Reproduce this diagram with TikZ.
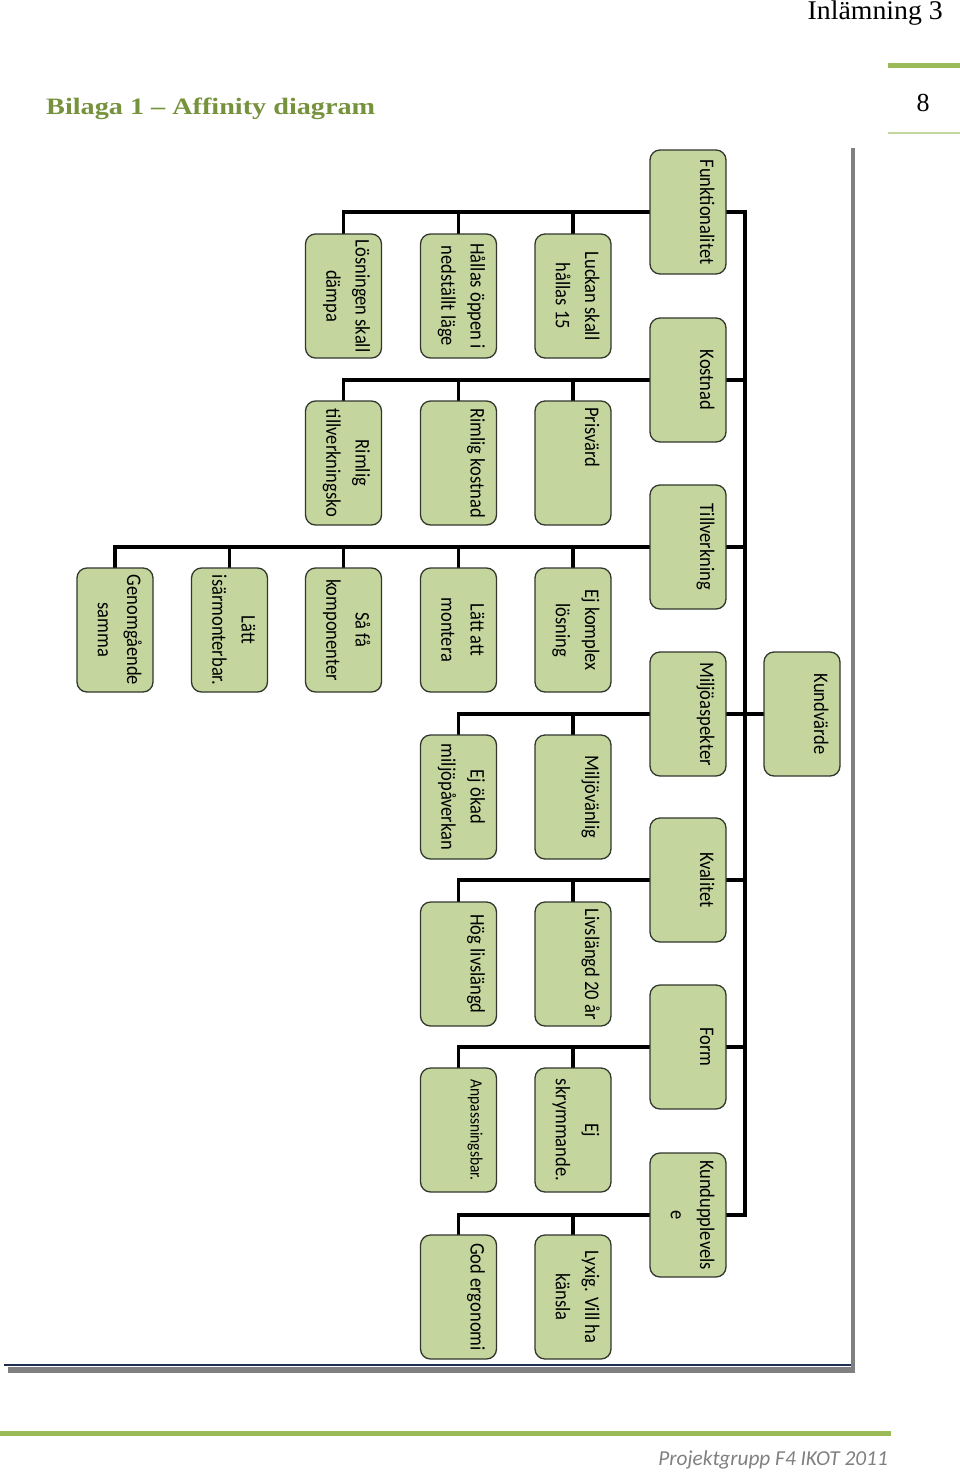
\documentclass[tikz,border=0pt]{standalone}
\usepackage{fontspec}
\setmainfont{Carlito}
\newfontfamily\headfont{Liberation Serif}
\usetikzlibrary{backgrounds}
\definecolor{cardfill}{RGB}{196,214,157}
\definecolor{cardline}{RGB}{50,55,45}
\definecolor{titlegreen}{RGB}{118,146,60}
\definecolor{rulegreen}{RGB}{155,187,89}
\definecolor{rulelight}{RGB}{195,214,155}
\definecolor{framegray}{RGB}{128,128,128}
\definecolor{navy}{RGB}{31,45,80}
\definecolor{footgray}{RGB}{128,128,128}
\tikzset{
  cardbox/.style={draw=cardline, line width=1.3pt, fill=cardfill, rounded corners=10pt,
    minimum width=76pt, minimum height=124pt, inner sep=0pt},
  cardtext/.style={inner sep=0pt, rotate=-90, anchor=north,
    font=\fontsize{18.5}{26}\selectfont},
  branch/.style={line width=3.5pt, black, line cap=rect},
  trunkline/.style={line width=4.5pt, black, line cap=rect},
}
\newcommand{\card}[4]{%
  \node[cardbox] (#1) at (#2,#3) {};
  \node[cardtext] (#1t) at ([xshift=-6pt]#1.east) {\scalebox{1}[1.12]{\begin{tabular}[t]{@{}c@{}}#4\end{tabular}}};}
\begin{document}
\begin{tikzpicture}[x=1pt,y=-1pt]
\useasboundingbox (0,0) rectangle (960,1472);
\begin{pgfonlayer}{background}
\fill[white] (0,0) rectangle (960,1472);
\end{pgfonlayer}

% header
\node[anchor=base east, inner sep=0pt, font=\headfont\fontsize{27}{30}\selectfont] (hdr) at (943,20) {\scalebox{1.03}[1]{Inlämning 3}};
\draw[rulegreen, line width=5pt] (888,65.5) -- (960,65.5);
\node[inner sep=0pt, font=\headfont\fontsize{26}{30}\selectfont] (pg) at (923,103) {8};
\draw[rulelight, line width=1.5pt] (888,133) -- (960,133);
\node[anchor=base west, inner sep=0pt, text=titlegreen, font=\headfont\bfseries\fontsize{23.5}{26}\selectfont] (title) at (46,114) {\scalebox{1.2}[1]{Bilaga 1 – Affinity diagram}};

% frame
\fill[framegray] (8,1367) rectangle (855,1373);
\draw[framegray, line width=4pt] (853,148) -- (853,1372);
\draw[navy, line width=1.8pt] (4,1365) -- (851,1365);

% footer
\draw[rulegreen, line width=5.5pt] (0,1433.5) -- (891,1433.5);
\node[anchor=base east, inner sep=0pt, text=footgray, font=\itshape\fontsize{21.3}{24}\selectfont] (foot) at (888,1465) {Projektgrupp F4 IKOT 2011};

% root and categories
\card{kv}{802}{714}{Kundvärde}
\card{fun}{688}{212}{Funktionalitet}
\card{kos}{688}{380}{Kostnad}
\card{til}{688}{547}{Tillverkning}
\card{mil}{688}{714}{Miljöaspekter}
\card{kva}{688}{880}{Kvalitet}
\card{for}{688}{1047}{Form}
\card{kup}{688}{1215}{Kundupplevels\\e}

% Funktionalitet children
\card{fA}{573}{296}{Luckan skall\\hållas 15}
\card{fB}{458.5}{296}{Hållas öppen i\\nedställt läge}
\card{fC}{343.5}{296}{Lösningen skall\\dämpa}
% Kostnad children
\card{kA}{573}{463}{\makebox[112pt][l]{Prisvärd}}
\card{kB}{458.5}{463}{Rimlig kostnad}
\card{kC}{343.5}{463}{Rimlig\\tillverkningsko}
% Tillverkning children
\card{tA}{573}{630}{Ej komplex\\lösning}
\card{tB}{458.5}{630}{Lätt att\\montera}
\card{tC}{343.5}{630}{Så få\\komponenter}
\card{tD}{229.5}{630}{Lätt\\isärmonterbar.}
\card{tE}{115}{630}{Genomgående\\samma}
% Miljöaspekter children
\card{mA}{573}{797}{Miljövänlig}
\card{mB}{458.5}{797}{Ej ökad\\miljöpåverkan}
% Kvalitet children
\card{qA}{573}{964}{Livslängd 20 år}
\card{qB}{458.5}{964}{Hög livslängd}
% Form children
\card{oA}{573}{1130}{Ej\\skrymmande.}
\card{oB}{458.5}{1130}{\fontsize{15.5}{20}\selectfont Anpassningsbar.}
% Kundupplevelse children
\card{uA}{573}{1297}{Lyxig. Vill ha\\känsla}
\card{uB}{458.5}{1297}{God ergonomi}

\coordinate (trunk) at (745,0);
\begin{pgfonlayer}{background}
\draw[trunkline] (fun.east -| trunk) -- (kup.east -| trunk);
\draw[branch] (kv.west) -- (kv.west -| trunk);
\foreach \c in {fun,kos,til,mil,kva,for,kup}
  \draw[branch] (\c.east) -- (\c.east -| trunk);
% branches
\draw[branch] (fun.west) -- (fun.west -| fC.north);
\foreach \c in {fA,fB,fC} \draw[branch] (fun.west -| \c.north) -- (\c.north);
\draw[branch] (kos.west) -- (kos.west -| kC.north);
\foreach \c in {kA,kB,kC} \draw[branch] (kos.west -| \c.north) -- (\c.north);
\draw[branch] (til.west) -- (til.west -| tE.north);
\foreach \c in {tA,tB,tC,tD,tE} \draw[branch] (til.west -| \c.north) -- (\c.north);
\draw[branch] (mil.west) -- (mil.west -| mB.north);
\foreach \c in {mA,mB} \draw[branch] (mil.west -| \c.north) -- (\c.north);
\draw[branch] (kva.west) -- (kva.west -| qB.north);
\foreach \c in {qA,qB} \draw[branch] (kva.west -| \c.north) -- (\c.north);
\draw[branch] (for.west) -- (for.west -| oB.north);
\foreach \c in {oA,oB} \draw[branch] (for.west -| \c.north) -- (\c.north);
\draw[branch] (kup.west) -- (kup.west -| uB.north);
\foreach \c in {uA,uB} \draw[branch] (kup.west -| \c.north) -- (\c.north);
\end{pgfonlayer}
\end{tikzpicture}
\end{document}
